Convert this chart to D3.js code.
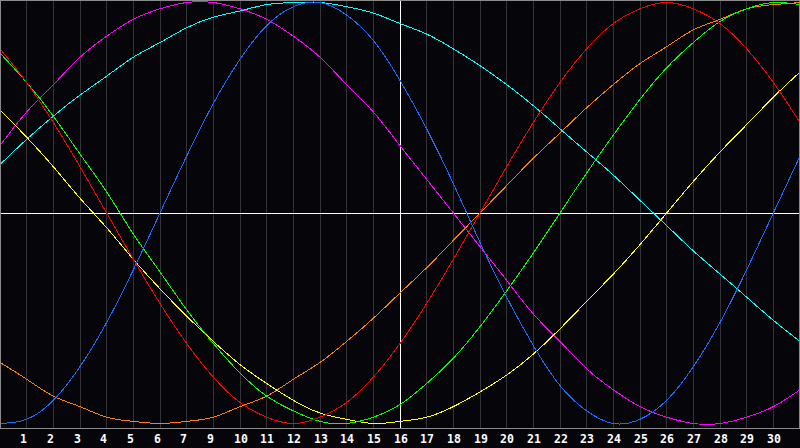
<!DOCTYPE html>
<html>
<head>
<meta charset="utf-8">
<script src="https://cdn.jsdelivr.net/npm/d3@7"></script>
<style>
  html, body { margin: 0; padding: 0; background: #060509; }
  svg { display: block; }
</style>
</head>
<body>
<div id="chart"></div>
<script>
// day index along the x axis (one value per gridline, 0..30)
const days = d3.range(0, 31);

// labels under the gridlines 1..29 (the "8" is missing in the original)
const tickLabels = ["1", "2", "3", "4", "5", "6", "7", "9", "10", "11", "12", "13", "14", "15",
    "16", "17", "18", "19", "20", "21", "22", "23", "24", "25", "26", "27", "28", "29", "30"];

// cycle values in percent at each day
const physical = [-100, -98, -89, -73, -52, -27, 0, 27, 52, 73, 89, 98, 100, 94, 82, 63, 40, 14,
    -14, -40, -63, -82, -94, -100, -98, -89, -73, -52, -27, 0, 27];
const emotional = [78, 62, 43, 22, 0, -22, -43, -62, -78, -90, -97, -100, -97, -90, -78, -62, -43, -22,
    0, 22, 43, 62, 78, 90, 97, 100, 97, 90, 78, 62, 43];
const intellectual = [76, 62, 46, 28, 10, -10, -28, -46, -62, -76, -87, -94, -99, -100, -97, -91, -81, -69,
    -54, -37, -19, 0, 19, 37, 54, 69, 81, 91, 97, 100, 99];
const intuitive = [32, 48, 61, 74, 84, 92, 97, 100, 100, 97, 92, 84, 74, 61, 48, 32, 16, 0,
    -16, -32, -48, -61, -74, -84, -92, -97, -100, -100, -97, -92, -84];
const aesthetic = [49, 36, 22, 7, -7, -22, -36, -49, -61, -72, -81, -89, -95, -98, -100, -99, -97, -92,
    -85, -77, -67, -55, -42, -29, -15, 0, 15, 29, 42, 55, 67];
const awareness = [-71, -79, -87, -92, -97, -99, -100, -99, -97, -92, -87, -79, -71, -61, -50, -38, -26, -13,
    0, 13, 26, 38, 50, 61, 71, 79, 87, 92, 97, 99, 100];
const spiritual = [23, 35, 46, 56, 65, 74, 81, 88, 93, 96, 99, 100, 100, 98, 95, 90, 85, 78,
    70, 61, 51, 40, 29, 18, 6, -6, -18, -29, -40, -51, -61];

const seriesNames = ["awareness", "spiritual", "intuitive", "aesthetic", "intellectual", "emotional", "physical"];
const seriesValues = [awareness, spiritual, intuitive, aesthetic, intellectual, emotional, physical];
const seriesColors = ["#ff8000", "#00ffff", "#ff00ff", "#ffff00", "#00ff00", "#ff0000", "#1a6cff"];

const width = 800, height = 448;
const plotBottom = 428;

const svg = d3.select("#chart")
    .append("svg")
    .attr("width", width)
    .attr("height", height);

svg.append("rect")
    .attr("width", width)
    .attr("height", height)
    .attr("fill", "#060509");

const x = d3.scaleLinear()
    .domain([0, 30])
    .range([0, width]);

const y = d3.scaleLinear()
    .domain([-100, 100])
    .range([423.5, 2.5]);

// vertical gridlines
svg.append("g")
    .selectAll("line")
    .data(d3.range(1, 30))
    .join("line")
    .attr("x1", d => Math.floor(x(d)) + 0.5)
    .attr("x2", d => Math.floor(x(d)) + 0.5)
    .attr("y1", 0)
    .attr("y2", plotBottom)
    .attr("stroke", "#343436")
    .attr("shape-rendering", "crispEdges");

// center cross
svg.append("line")
    .attr("x1", 0).attr("x2", width)
    .attr("y1", 213.5).attr("y2", 213.5)
    .attr("stroke", "#ffffff")
    .attr("shape-rendering", "crispEdges");
svg.append("line")
    .attr("x1", x(15) + 0.5).attr("x2", x(15) + 0.5)
    .attr("y1", 0).attr("y2", plotBottom)
    .attr("stroke", "#ffffff")
    .attr("shape-rendering", "crispEdges");

// curves
const line = d3.line()
    .x((d, i) => x(days[i]))
    .y(d => y(d))
    .curve(d3.curveNatural);

svg.append("g")
    .selectAll("path")
    .data(seriesValues)
    .join("path")
    .attr("class", (d, i) => seriesNames[i])
    .attr("d", line)
    .attr("fill", "none")
    .attr("stroke", (d, i) => seriesColors[i])
    .attr("stroke-width", 1)
    .attr("shape-rendering", "crispEdges");

// frame
svg.append("rect")
    .attr("x", 0.5).attr("y", 0.5)
    .attr("width", width - 1)
    .attr("height", plotBottom)
    .attr("fill", "none")
    .attr("stroke", "#8a8a8a")
    .attr("shape-rendering", "crispEdges");

// day labels
svg.append("g")
    .selectAll("text")
    .data(tickLabels)
    .join("text")
    .attr("x", (d, i) => Math.floor(x(i + 1)) - 6)
    .attr("y", 443)
    .attr("fill", "#ffffff")
    .style("font-family", "'DejaVu Sans Mono', monospace")
    .style("font-weight", "bold")
    .style("font-size", "11.5px")
    .text(d => d);
</script>
</body>
</html>
